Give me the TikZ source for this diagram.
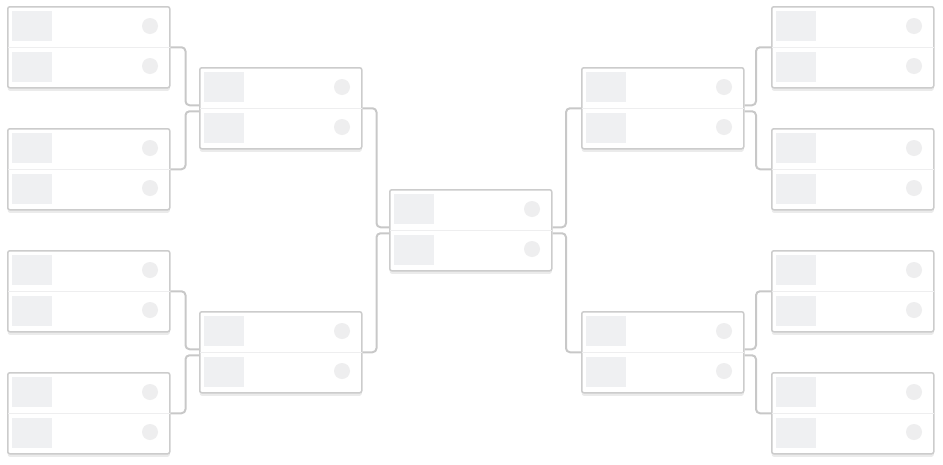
\documentclass[tikz,border=0pt]{standalone}
\usetikzlibrary{calc,shadows}
\definecolor{bord}{HTML}{CCCCCC}
\definecolor{conn}{HTML}{C8C8C8}
\definecolor{ph}{HTML}{EFF0F2}
\definecolor{dot}{HTML}{EEEEEF}
\tikzset{
  matchbox/.style={draw=bord, line width=1.5pt, fill=white, rounded corners=2pt,
    minimum width=162pt, minimum height=81pt, anchor=north west, inner sep=0pt,
    drop shadow={shadow xshift=0pt, shadow yshift=-3pt, opacity=0.08, fill=black}},
  conline/.style={draw=conn, line width=2pt, rounded corners=4pt},
  phbox/.style={fill=ph},
  phdot/.style={fill=dot},
}
\newcommand\matchat[3]{%
  \node[matchbox] (#1) at (#2,#3) {};
  \draw[dot, line width=1pt] ($(#1.west)+(1,0)$) -- ($(#1.east)+(-1,0)$);
  \fill[phbox] ($(#1.north west)+(5,5)$) rectangle ++(40,30);
  \fill[phbox] ($(#1.north west)+(5,46)$) rectangle ++(40,30);
  \fill[phdot] ($(#1.north west)+(143,20)$) circle (8);
  \fill[phdot] ($(#1.north west)+(143,60)$) circle (8);
}
\begin{document}
\begin{tikzpicture}[x=1pt,y=-1pt]
\useasboundingbox (0,0) rectangle (943,464);
\matchat{l1}{7}{6}
\matchat{l2}{7}{128}
\matchat{l3}{7}{250}
\matchat{l4}{7}{372}
\matchat{m1}{199}{67}
\matchat{m2}{199}{311}
\matchat{c}{389}{189}
\matchat{n1}{581}{67}
\matchat{n2}{581}{311}
\matchat{r1}{771}{6}
\matchat{r2}{771}{128}
\matchat{r3}{771}{250}
\matchat{r4}{771}{372}
% left
\draw[conline] (l1.east) -- ++(15,0) |- ($(m1.west)+(0,-3)$);
\draw[conline] (l2.east) -- ++(15,0) |- ($(m1.west)+(0,3)$);
\draw[conline] (l3.east) -- ++(15,0) |- ($(m2.west)+(0,-3)$);
\draw[conline] (l4.east) -- ++(15,0) |- ($(m2.west)+(0,3)$);
\draw[conline] (m1.east) -- ++(14,0) |- ($(c.west)+(0,-3)$);
\draw[conline] (m2.east) -- ++(14,0) |- ($(c.west)+(0,3)$);
% right
\draw[conline] (r1.west) -- ++(-15,0) |- ($(n1.east)+(0,-3)$);
\draw[conline] (r2.west) -- ++(-15,0) |- ($(n1.east)+(0,3)$);
\draw[conline] (r3.west) -- ++(-15,0) |- ($(n2.east)+(0,-3)$);
\draw[conline] (r4.west) -- ++(-15,0) |- ($(n2.east)+(0,3)$);
\draw[conline] (n1.west) -- ++(-15,0) |- ($(c.east)+(0,-3)$);
\draw[conline] (n2.west) -- ++(-15,0) |- ($(c.east)+(0,3)$);
\end{tikzpicture}
\end{document}
